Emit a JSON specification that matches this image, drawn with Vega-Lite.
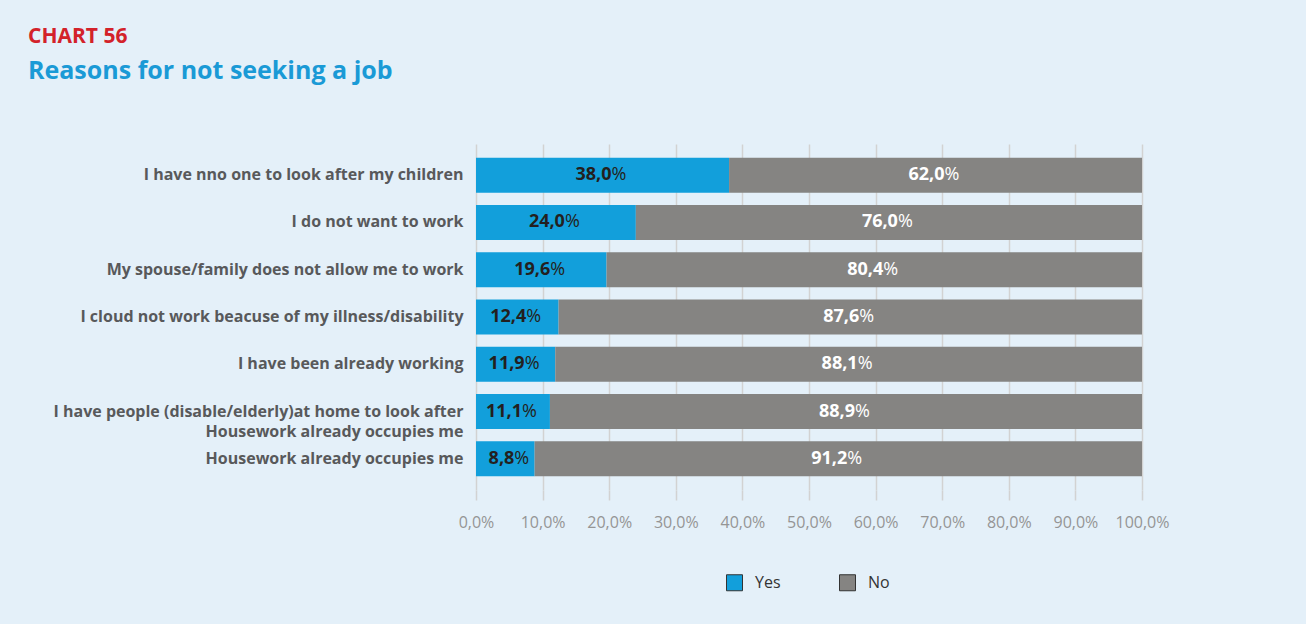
{
  "$schema": "https://vega.github.io/schema/vega-lite/v6.json",
  "width": 666,
  "height": 346,
  "autosize": {"type": "none"},
  "padding": {"left": 476, "top": 144, "right": 164, "bottom": 134},
  "background": "#e4f0f9",
  "title": {
    "text": "CHART 56",
    "subtitle": "Reasons for not seeking a job",
    "anchor": "start",
    "frame": "group",
    "dx": -448,
    "offset": 60,
    "font": "Open Sans",
    "fontSize": 21,
    "fontWeight": "bold",
    "color": "#d3222a",
    "subtitleFont": "Open Sans",
    "subtitleFontSize": 25,
    "subtitleFontWeight": "bold",
    "subtitleColor": "#1a9ad6",
    "subtitlePadding": 12
  },
  "data": {
    "values": [
      {"reason": "I have nno one to look after my children", "answer": "Yes", "pct": 38.0},
      {"reason": "I have nno one to look after my children", "answer": "No", "pct": 62.0},
      {"reason": "I do not want to work", "answer": "Yes", "pct": 24.0},
      {"reason": "I do not want to work", "answer": "No", "pct": 76.0},
      {"reason": "My spouse/family does not allow me to work", "answer": "Yes", "pct": 19.6},
      {"reason": "My spouse/family does not allow me to work", "answer": "No", "pct": 80.4},
      {"reason": "I cloud not work beacuse of my illness/disability", "answer": "Yes", "pct": 12.4},
      {"reason": "I cloud not work beacuse of my illness/disability", "answer": "No", "pct": 87.6},
      {"reason": "I have been already working", "answer": "Yes", "pct": 11.9},
      {"reason": "I have been already working", "answer": "No", "pct": 88.1},
      {"reason": "I have people (disable/elderly)at home to look after|Housework already occupies me", "answer": "Yes", "pct": 11.1},
      {"reason": "I have people (disable/elderly)at home to look after|Housework already occupies me", "answer": "No", "pct": 88.9},
      {"reason": "Housework already occupies me", "answer": "Yes", "pct": 8.8},
      {"reason": "Housework already occupies me", "answer": "No", "pct": 91.2}
    ]
  },
  "encoding": {
    "y": {
      "field": "reason",
      "type": "nominal",
      "sort": null,
      "scale": {"paddingInner": 0.26, "paddingOuter": 0.29},
      "axis": {
        "title": null,
        "domain": false,
        "ticks": false,
        "grid": false,
        "labelFont": "Open Sans",
        "labelFontWeight": "bold",
        "labelFontSize": 16,
        "labelColor": "#58595b",
        "labelPadding": 13,
        "labelLimit": 0,
        "labelLineHeight": 20,
        "labelOverlap": false,
        "labelExpr": "split(datum.label, '|')"
      }
    },
    "order": {"field": "answer", "sort": "descending"}
  },
  "layer": [
    {
      "mark": {"type": "bar"},
      "encoding": {
        "x": {
          "field": "pct",
          "type": "quantitative",
          "stack": "zero",
          "scale": {"domain": [0, 100]},
          "axis": {
            "title": null,
            "domain": false,
            "values": [0, 10, 20, 30, 40, 50, 60, 70, 80, 90, 100],
            "format": ".1f",
            "labelExpr": "datum.label + '%'",
            "labelOverlap": false,
            "labelFlush": false,
            "ticks": true,
            "tickSize": 10,
            "tickColor": "#d2d2d2",
            "tickWidth": 1.5,
            "grid": true,
            "gridColor": "#d2d2d2",
            "gridWidth": 1.5,
            "labelFont": "Open Sans",
            "labelFontSize": 16,
            "labelColor": "#959595",
            "labelPadding": 14
          }
        },
        "color": {
          "field": "answer",
          "type": "nominal",
          "sort": ["Yes", "No"],
          "scale": {"domain": ["Yes", "No"], "range": ["#129fdb", "#858482"]},
          "legend": {
            "title": null,
            "orient": "none",
            "legendX": 250,
            "legendY": 430,
            "direction": "horizontal",
            "symbolType": "square",
            "symbolSize": 256,
            "symbolStrokeColor": "#333333",
            "symbolStrokeWidth": 1,
            "labelFont": "Open Sans",
            "labelFontSize": 16,
            "labelColor": "#333333",
            "labelOffset": 12,
            "columnPadding": 56
          }
        }
      }
    },
    {
      "mark": {"type": "text", "align": "right", "baseline": "middle", "dx": 9, "font": "Open Sans", "fontSize": 18, "fontWeight": "bold"},
      "encoding": {
        "x": {"field": "pct", "type": "quantitative", "stack": "zero", "bandPosition": 0.5},
        "detail": {"field": "answer"},
        "text": {"field": "pct", "type": "quantitative", "format": ".1f"},
        "color": {"condition": {"test": "datum.answer === 'Yes'", "value": "#231f20"}, "value": "#ffffff"}
      }
    },
    {
      "mark": {"type": "text", "align": "left", "baseline": "middle", "dx": 9, "font": "Open Sans", "fontSize": 18, "fontWeight": "normal"},
      "encoding": {
        "x": {"field": "pct", "type": "quantitative", "stack": "zero", "bandPosition": 0.5},
        "detail": {"field": "answer"},
        "text": {"value": "%"},
        "color": {"condition": {"test": "datum.answer === 'Yes'", "value": "#231f20"}, "value": "#ffffff"}
      }
    }
  ],
  "config": {
    "view": {"stroke": null},
    "locale": {
      "number": {"decimal": ",", "thousands": ".", "grouping": [3], "currency": ["", " €"]}
    }
  }
}
